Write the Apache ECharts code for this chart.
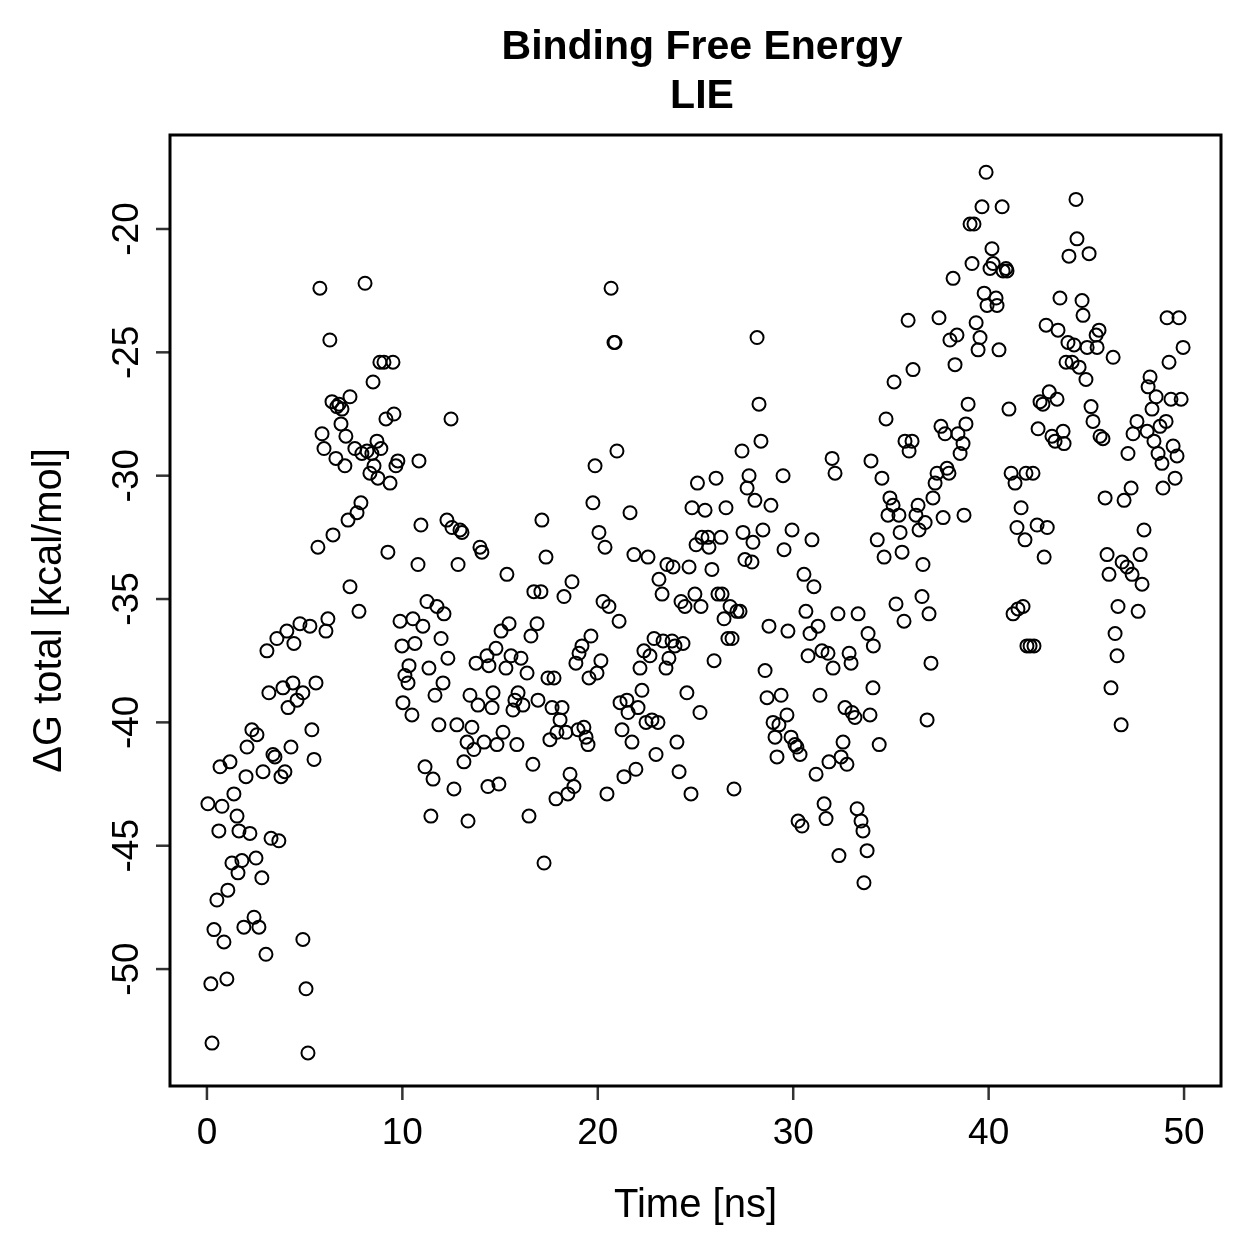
<!DOCTYPE html>
<html>
<head>
<meta charset="utf-8">
<script src="https://cdn.jsdelivr.net/npm/echarts@6/dist/echarts.min.js"></script>
<style>
  html, body { margin: 0; padding: 0; background: #fff; }
  #chart { width: 1259px; height: 1259px; }
</style>
</head>
<body>
<div id="chart"></div>
<script>
const chartTitle = 'Binding Free Energy\nLIE'
const xName = 'Time [ns]'
const yName = 'ΔG total [kcal/mol]'
const xTicks = [0, 10, 20, 30, 40, 50]
const yTicks = [-50, -45, -40, -35, -30, -25, -20]
const xRange = [-1.89, 51.89]
const yRange = [-54.74, -16.19]

// [time ns, dG kcal/mol]
const lieSamples = [
  [0.05,-43.3],[0.2,-50.6],[0.26,-53.0],[0.36,-48.4],[0.51,-47.2],[0.61,-44.4],[0.67,-41.8],[0.77,-43.4],[0.87,-48.9],[1.02,-50.4],
  [1.07,-46.8],[1.18,-41.6],[1.28,-45.7],[1.38,-42.9],[1.54,-43.8],[1.59,-46.1],[1.64,-44.4],[1.79,-45.6],[1.89,-48.3],[2.0,-42.2],
  [2.05,-41.0],[2.2,-44.5],[2.3,-40.3],[2.41,-47.9],[2.51,-45.5],[2.56,-40.5],[2.66,-48.3],[2.81,-46.3],[2.87,-42.0],[3.02,-49.4],
  [3.07,-37.1],[3.17,-38.8],[3.28,-44.7],[3.38,-41.3],[3.48,-41.4],[3.58,-36.6],[3.68,-44.8],[3.79,-42.2],[3.89,-38.6],[3.99,-42.0],
  [4.09,-36.3],[4.15,-39.4],[4.3,-41.0],[4.4,-38.4],[4.45,-36.8],[4.61,-39.1],[4.76,-36.0],[4.91,-38.8],[4.91,-48.8],[5.07,-50.8],
  [5.17,-53.4],[5.27,-36.1],[5.37,-40.3],[5.48,-41.5],[5.58,-38.4],[5.68,-32.9],[5.78,-22.4],[5.89,-28.3],[5.99,-28.9],[6.09,-36.3],
  [6.19,-35.8],[6.29,-24.5],[6.4,-27.0],[6.45,-32.4],[6.6,-29.3],[6.65,-27.2],[6.76,-27.1],[6.86,-27.9],[6.91,-27.3],[7.06,-29.6],
  [7.11,-28.4],[7.22,-31.8],[7.32,-26.8],[7.32,-34.5],
  [7.57,-28.9],[7.68,-31.5],[7.78,-35.5],[7.88,-31.1],[7.93,-29.1],[8.09,-22.2],[8.19,-29.0],[8.34,-29.9],[8.44,-29.1],[8.5,-26.2],
  [8.55,-29.6],[8.7,-28.6],[8.75,-30.1],[8.85,-25.4],[8.9,-28.9],[9.06,-25.4],[9.16,-27.7],[9.26,-33.1],[9.37,-30.3],[9.52,-25.4],
  [9.57,-27.5],[9.67,-29.6],[9.77,-29.4],[9.88,-35.9],[9.98,-36.9],[10.03,-39.2],[10.13,-38.1],[10.29,-38.4],[10.34,-37.7],[10.49,-39.7],
  [10.54,-35.8],[10.64,-36.8],[10.8,-33.6],[10.85,-29.4],[10.95,-32.0],[11.05,-36.1],[11.16,-41.8],[11.26,-35.1],[11.36,-37.8],[11.46,-43.8],
  [11.57,-42.3],[11.67,-38.9],[11.77,-35.3],[11.87,-40.1],[11.98,-36.6],[12.08,-38.4],[12.13,-35.6],[12.28,-31.8],[12.33,-37.4],[12.49,-27.7],
  [12.54,-32.1],[12.64,-42.7],[12.79,-40.1],[12.85,-33.6],[12.95,-32.2],[13.05,-32.3],[13.15,-41.6],[13.31,-40.8],[13.36,-44.0],[13.46,-38.9],
  [13.56,-40.2],[13.66,-41.1],[13.77,-37.6],[13.87,-39.3],[13.97,-32.9],[14.07,-33.1],[14.18,-40.8],[14.33,-37.3],[14.38,-42.6],[14.43,-37.7],
  [14.59,-39.4],[14.64,-38.8],[14.79,-37.0],[14.84,-40.9],[14.94,-42.5],[15.05,-36.3],[15.15,-40.4],[15.3,-37.8],[15.35,-34.0],[15.46,-36.0],
  [15.56,-37.3],
  [15.66,-39.5],[15.76,-39.1],[15.86,-40.9],[15.92,-38.8],[16.07,-37.4],[16.17,-39.3],[16.38,-38.0],[16.48,-43.8],[16.58,-36.5],[16.68,-41.7],
  [16.73,-34.7],[16.89,-36.0],[16.94,-39.1],[17.09,-34.7],[17.14,-31.8],[17.25,-45.7],[17.35,-33.3],[17.45,-38.2],[17.55,-40.7],[17.66,-39.4],
  [17.76,-38.2],[17.86,-43.1],[17.91,-40.4],[18.07,-39.9],[18.17,-39.4],[18.27,-34.9],[18.37,-40.4],[18.47,-42.9],[18.58,-42.1],[18.68,-34.3],
  [18.78,-42.6],[18.88,-37.6],[18.99,-40.3],[19.04,-37.2],[19.19,-36.9],[19.29,-40.2],[19.4,-40.6],[19.5,-40.9],[19.55,-38.2],[19.65,-36.5],
  [19.75,-31.1],[19.86,-29.6],[19.96,-38.0],[20.06,-32.3],[20.16,-37.5],[20.27,-35.1],[20.37,-32.9],[20.47,-42.9],[20.57,-35.3],[20.68,-22.4],
  [20.83,-24.6],[20.88,-24.6],[20.98,-29.0],[21.09,-35.9],[21.14,-39.2],[21.24,-40.3],[21.34,-42.2],[21.49,-39.1],[21.55,-39.6],[21.65,-31.5],
  [21.75,-40.8],[21.85,-33.2],[21.95,-41.9],[22.06,-39.4],[22.16,-37.8],[22.26,-38.7],[22.36,-37.1],[22.47,-40.0],[22.57,-33.3],[22.67,-37.3],
  [22.77,-39.9],[22.88,-36.6],[22.98,-41.3],[23.08,-40.0],[23.13,-34.2],[23.29,-34.8],[23.34,-36.7],[23.49,-37.8],[23.54,-33.6],[23.64,-37.4],
  [23.8,-36.7],[23.85,-33.7],[23.95,-36.9],[24.05,-40.8],[24.16,-42.0],[24.26,-35.1],[24.36,-36.8],[24.46,-35.3],[24.56,-38.8],[24.67,-33.7],
  [24.77,-42.9],[24.82,-31.3],[24.97,-34.8],
  [25.03,-32.8],[25.1,-30.3],[25.23,-39.6],[25.28,-35.3],[25.33,-32.5],[25.49,-31.4],[25.64,-32.5],[25.69,-32.9],[25.84,-33.8],[25.95,-37.5],
  [26.05,-30.1],[26.15,-34.8],[26.3,-32.5],[26.36,-34.8],[26.46,-35.8],[26.56,-31.3],[26.66,-36.6],[26.77,-35.3],[26.87,-36.6],[26.97,-42.7],
  [27.12,-35.5],[27.28,-35.5],[27.38,-29.0],[27.43,-32.3],[27.53,-33.4],[27.64,-30.5],[27.74,-30.0],[27.89,-33.5],[27.94,-32.7],[28.04,-31.0],
  [28.15,-24.4],[28.25,-27.1],[28.35,-28.6],[28.45,-32.2],[28.56,-37.9],[28.66,-39.0],[28.76,-36.1],[28.86,-31.2],[28.97,-40.0],[29.07,-40.6],
  [29.17,-41.4],[29.27,-40.1],[29.38,-38.9],[29.48,-30.0],[29.53,-33.0],[29.68,-39.7],[29.73,-36.3],[29.89,-40.6],[29.94,-32.2],[30.09,-40.9],
  [30.19,-41.0],[30.25,-44.0],[30.35,-41.3],[30.45,-44.2],[30.55,-34.0],[30.65,-35.5],[30.76,-37.3],[30.86,-36.4],[30.96,-32.6],[31.06,-34.5],
  [31.17,-42.1],[31.27,-36.1],[31.37,-38.9],[31.47,-37.1],[31.58,-43.3],[31.68,-43.9],[31.78,-37.2],[31.83,-41.6],[31.99,-29.3],[32.04,-37.8],
  [32.14,-29.9],[32.29,-35.6],[32.34,-45.4],[32.45,-41.4],[32.55,-40.8],[32.65,-39.4],[32.75,-41.7],[32.86,-37.2],[32.96,-37.6],[33.01,-39.6],
  [33.16,-39.8],[33.27,-43.5],[33.32,-35.6],[33.47,-44.0],[33.57,-44.4],[33.62,-46.5],[33.78,-45.2],[33.83,-36.4],[33.93,-39.7],[33.98,-29.4],
  [34.08,-38.6],[34.1,-36.9],[34.3,-32.6],[34.4,-40.9],
  [34.54,-30.1],[34.65,-33.3],[34.75,-27.7],[34.85,-31.6],[34.95,-30.9],[35.11,-31.2],[35.16,-26.2],[35.26,-35.2],[35.41,-31.6],[35.47,-32.3],
  [35.57,-33.1],[35.67,-35.9],[35.72,-28.6],[35.88,-23.7],[35.93,-29.0],[36.08,-28.6],[36.13,-25.7],[36.28,-31.6],[36.39,-31.2],[36.44,-32.2],
  [36.59,-34.9],[36.64,-33.6],[36.75,-31.9],[36.85,-39.9],[36.95,-35.6],[37.05,-37.6],[37.15,-30.9],[37.26,-30.3],[37.36,-29.9],[37.46,-23.6],
  [37.56,-28.0],[37.67,-31.7],[37.77,-28.3],[37.87,-29.7],[37.97,-29.9],[38.02,-24.5],[38.18,-22.0],[38.28,-25.5],[38.38,-24.3],[38.43,-28.3],
  [38.54,-29.1],[38.69,-28.7],[38.74,-31.6],[38.84,-27.9],[38.95,-27.1],[39.05,-19.8],[39.15,-21.4],[39.25,-19.8],[39.36,-23.8],[39.46,-24.9],
  [39.56,-24.4],[39.66,-19.1],[39.77,-22.6],[39.87,-17.7],[39.92,-23.1],[40.07,-21.6],[40.17,-20.8],[40.23,-21.4],[40.38,-22.8],[40.43,-23.1],
  [40.53,-24.9],[40.69,-19.1],[40.74,-21.7],[40.89,-21.6],[40.94,-21.7],[41.04,-27.3],[41.15,-29.9],[41.25,-35.6],[41.35,-30.3],[41.45,-32.1],
  [41.5,-35.4],[41.66,-31.3],[41.76,-35.3],[41.86,-32.6],[41.91,-29.9],[41.96,-36.9],[42.12,-36.9],[42.27,-29.9],[42.32,-36.9],[42.48,-32.0],
  [42.53,-28.1],[42.63,-27.0],[42.78,-27.1],[42.84,-33.3],[42.94,-23.9],
  [43.0,-32.1],[43.1,-26.6],[43.24,-28.4],[43.4,-28.6],[43.5,-26.9],[43.55,-24.1],[43.65,-22.8],[43.81,-28.2],[43.86,-28.7],[43.96,-25.4],
  [44.06,-24.6],[44.11,-21.1],[44.27,-25.4],[44.37,-24.7],[44.47,-18.8],[44.52,-20.4],[44.63,-25.6],[44.78,-22.9],[44.83,-23.5],[44.98,-26.1],
  [45.04,-24.8],[45.14,-21.0],[45.24,-27.2],[45.34,-27.8],[45.5,-24.3],[45.55,-24.8],[45.65,-24.1],[45.7,-28.4],[45.85,-28.5],[45.96,-30.9],
  [46.06,-33.2],[46.16,-34.0],[46.26,-38.6],[46.37,-25.2],[46.47,-36.4],[46.57,-37.3],[46.62,-35.3],[46.78,-40.1],[46.83,-33.5],[46.93,-31.0],
  [47.08,-33.7],[47.13,-29.1],[47.29,-30.5],[47.34,-34.0],[47.39,-28.3],[47.59,-27.8],[47.65,-35.5],[47.75,-33.2],[47.85,-34.4],[47.95,-32.2],
  [48.11,-28.2],[48.16,-26.4],[48.26,-26.0],[48.36,-27.3],[48.46,-28.6],[48.57,-26.8],[48.67,-29.1],[48.77,-28.0],[48.87,-29.5],[48.92,-30.5],
  [49.08,-27.8],[49.13,-23.6],[49.23,-25.4],[49.33,-26.9],[49.44,-28.8],[49.54,-30.1],[49.64,-29.2],[49.74,-23.6],[49.85,-26.9],[49.95,-24.8]
]

const fontFamily = '"Liberation Sans", Arial, Helvetica, sans-serif'
const TICK_LEN = 14
const TICK_W = 2.5

function baseAxis(extra) {
  return Object.assign({
    type: 'value',
    nameLocation: 'middle',
    nameTextStyle: { fontSize: 40, color: '#000', fontFamily },
    axisLine: { show: false, onZero: false },
    axisTick: { show: false },
    splitLine: { show: false },
  }, extra)
}

// tick marks as small rect symbols sitting on the frame edge, pushed outward
function tickSeries(data, size, offset) {
  return {
    type: 'scatter',
    data,
    symbol: 'rect',
    symbolSize: size,
    symbolOffset: offset,
    clip: false,
    silent: true,
    z: 20,
    itemStyle: { color: '#000' },
    emphasis: { disabled: true },
    tooltip: { show: false },
  }
}

const chart = echarts.init(document.getElementById('chart'), null, { renderer: 'canvas' })

chart.setOption({
  animation: false,
  backgroundColor: '#fff',
  textStyle: { fontFamily },
  title: {
    text: chartTitle,
    left: 697,
    textAlign: 'center',
    top: 18,
    textStyle: { fontSize: 41, fontWeight: 'bold', color: '#000', lineHeight: 49, fontFamily },
  },
  grid: {
    left: 170,
    right: 38,
    top: 135,
    bottom: 173,
    show: true,
    borderColor: '#000',
    borderWidth: 3,
    backgroundColor: 'transparent',
  },
  xAxis: baseAxis({
    min: xRange[0],
    max: xRange[1],
    name: xName,
    nameGap: 100,
    axisLabel: { customValues: xTicks, fontSize: 37, color: '#000', margin: 29, fontFamily },
  }),
  yAxis: baseAxis({
    min: yRange[0],
    max: yRange[1],
    name: yName,
    nameGap: 100,
    axisLabel: { customValues: yTicks, rotate: 90, fontSize: 37, color: '#000', margin: 24, fontFamily },
  }),
  series: [
    {
      type: 'scatter',
      data: lieSamples,
      symbol: 'circle',
      symbolSize: 13,
      itemStyle: { color: 'rgba(0,0,0,0)', borderColor: '#000', borderWidth: 2, opacity: 1 },
      emphasis: { disabled: true },
    },
    tickSeries(xTicks.map(v => [v, yRange[0]]), [TICK_W, TICK_LEN], [0, TICK_LEN / 2]),
    tickSeries(yTicks.map(v => [xRange[0], v]), [TICK_LEN, TICK_W], [-TICK_LEN / 2, 0]),
  ],
})
</script>
</body>
</html>
